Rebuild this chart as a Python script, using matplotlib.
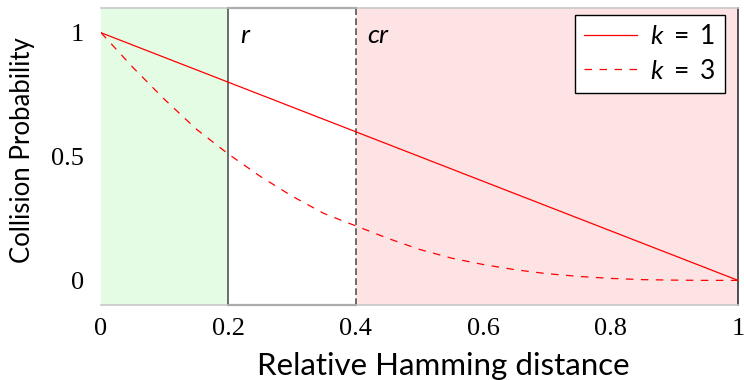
import matplotlib
matplotlib.use("Agg")
import matplotlib.pyplot as plt

plt.rcParams["mathtext.fontset"] = "custom"
plt.rcParams["mathtext.rm"] = "Lato"
plt.rcParams["mathtext.it"] = "Lato:italic"

# collision probability vs relative hamming distance
dist = [0.0, 0.05, 0.1, 0.15, 0.2, 0.25, 0.3, 0.35, 0.4, 0.45, 0.5,
        0.55, 0.6, 0.65, 0.7, 0.75, 0.8, 0.85, 0.9, 0.95, 1.0]
prob_k1 = [1.0, 0.95, 0.9, 0.85, 0.8, 0.75, 0.7, 0.65, 0.6, 0.55, 0.5,
           0.45, 0.4, 0.35, 0.3, 0.25, 0.2, 0.15, 0.1, 0.05, 0.0]
prob_k3 = [1.0, 0.86, 0.73, 0.61, 0.51, 0.42, 0.34, 0.27, 0.22, 0.17, 0.125,
           0.09, 0.064, 0.043, 0.027, 0.016, 0.008, 0.003, 0.001, 0.0, 0.0]

r = 0.2
cr = 0.4
xticks = [0, 0.2, 0.4, 0.6, 0.8, 1]
xtick_labels = ["0", "0.2", "0.4", "0.6", "0.8", "1"]
yticks = [0, 0.5, 1]
ytick_labels = ["0", "0.5", "1"]

fig = plt.figure(figsize=(7.44, 3.8), dpi=100)
ax = fig.add_axes([0.1358, 0.197, 0.8562, 0.782])

ax.axvspan(0, r, color="#e4fce4", lw=0, zorder=0)
ax.axvspan(cr, 1, color="#fde3e3", lw=0, zorder=0)

# box around the [r, cr] band
ax.plot([r, r], [-0.1, 1.1], color="#555555", lw=1.2, zorder=1)
ax.plot([cr, cr], [-0.1, 1.1], color="#555555", lw=1.2, ls=(0, (4, 2)), zorder=1)
ax.plot([r, cr], [1.1, 1.1], color="#222222", lw=1.5, zorder=2, clip_on=False)
ax.plot([r, cr], [-0.1, -0.1], color="#222222", lw=1.5, zorder=2, clip_on=False)
ax.plot([1, 1], [-0.1, 1.1], color="#333333", lw=1.2, zorder=1, clip_on=False)

ax.plot(dist, prob_k1, color="#ff0000", lw=0.9, label="$k\\ =\\ 1$", zorder=3)
ax.plot(dist, prob_k3, color="#ff0000", lw=0.9, ls=(0, (6, 6)), label="$k\\ =\\ 3$", zorder=3)

ax.text(0.218, 0.985, "$r$", fontsize=19, va="center", ha="left")
ax.text(0.418, 0.985, "$cr$", fontsize=19, va="center", ha="left")

ax.set_xlim(0, 1)
ax.set_ylim(-0.1, 1.1)
ax.set_xticks(xticks)
ax.set_xticklabels(xtick_labels, fontfamily="Liberation Serif", fontsize=19)
ax.set_yticks(yticks)
ax.set_yticklabels(ytick_labels, fontfamily="Liberation Serif", fontsize=19)
ax.tick_params(axis="x", length=0, pad=9)
ax.tick_params(axis="y", length=0, pad=12)

for side in ["top", "bottom"]:
    ax.spines[side].set_color("#c8c8c8")
    ax.spines[side].set_linewidth(1.2)
ax.spines["left"].set_visible(False)
ax.spines["right"].set_visible(False)

ax.set_xlabel("Relative Hamming distance", fontfamily="Lato", fontsize=22.5)
ax.set_ylabel("Collision Probability", fontfamily="Lato", fontsize=18.5)
ax.xaxis.set_label_coords(0.538, -0.157)
ax.yaxis.set_label_coords(-0.103, 0.52)

leg = ax.legend(loc="upper right", bbox_to_anchor=(0.98, 0.976), borderaxespad=0,
                fancybox=False, framealpha=1, edgecolor="black",
                handlelength=2.0, handletextpad=0.5, labelspacing=0.35,
                borderpad=0.35, prop={"family": "Lato", "size": 19})
leg.get_frame().set_linewidth(1.0)

fig.savefig("out.png", dpi=100)
